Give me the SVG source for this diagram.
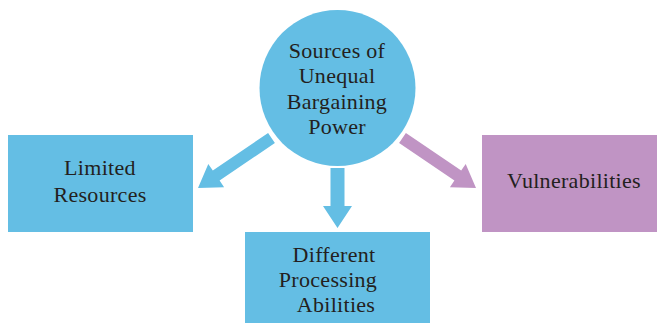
<svg xmlns="http://www.w3.org/2000/svg" width="658" height="324" viewBox="0 0 658 324">
<style>
.blue{fill:#64bee4}
.purple{fill:#c094c4}
.t{font-family:"Liberation Serif","DejaVu Serif",serif;font-size:22px;letter-spacing:0.3px;fill:#231f20;text-anchor:middle}
</style>
<rect width="658" height="324" fill="#ffffff"/>
<g id="connectors">
<polygon class="blue" points="268.1,133 212.8,170.6 208.3,164 198,188 224.1,187.2 219.6,180.6 274.9,143"/>
<polygon class="blue" points="330.5,168 344.5,168 344.5,206 352,206 337.5,228 323,206 330.5,206"/>
<polygon class="purple" points="405.9,133 461.2,170.6 465.7,164 476,188 449.9,187.2 454.4,180.6 399.1,143"/>
</g>
<g id="sources">
<circle class="blue" cx="337.5" cy="88" r="78"/>
<text class="t" x="337" y="57.5">Sources of</text>
<text class="t" x="337" y="83">Unequal</text>
<text class="t" x="337" y="108.5">Bargaining</text>
<text class="t" x="337" y="134">Power</text>
</g>
<g id="limited">
<rect class="blue" x="8" y="135" width="185" height="97"/>
<text class="t" x="100" y="175">Limited</text>
<text class="t" x="100" y="202">Resources</text>
</g>
<g id="different">
<rect class="blue" x="245" y="232" width="185" height="91"/>
<text class="t" x="334" y="262">Different</text>
<text class="t" x="328" y="287">Processing</text>
<text class="t" x="336" y="312">Abilities</text>
</g>
<g id="vulnerabilities">
<rect class="purple" x="482" y="135" width="175" height="97"/>
<text class="t" x="574" y="188">Vulnerabilities</text>
</g>
</svg>
